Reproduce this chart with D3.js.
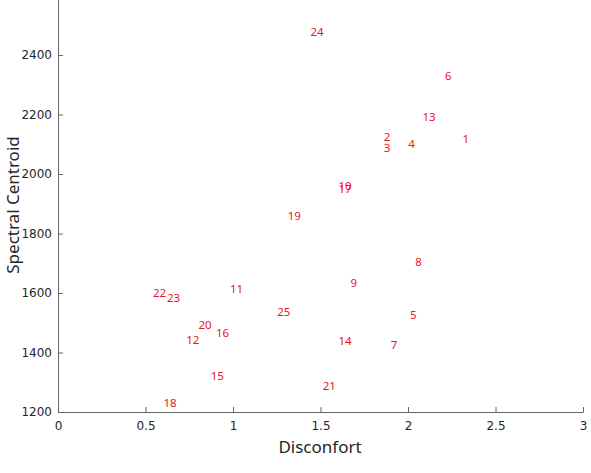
<!DOCTYPE html>
<html>
<head>
<meta charset="utf-8">
<script src="https://cdn.jsdelivr.net/npm/d3@7"></script>
<style>
  body { margin: 0; background: #fff; }
  svg { display: block; font-family: "Noto Sans", sans-serif; }
  .axis path, .axis line { stroke: #666; }
  .axis text { fill: #262626; font-size: 12px; font-family: "DejaVu Sans", sans-serif; }
  .axisText { fill: #262626; font-size: 17px; }
</style>
</head>
<body>
<div id="scatter"></div>
<script>
    var svgWidth = 591;
    var svgHeight = 473;

    var margin = { top: -4.5, right: 8, bottom: 61, left: 58 };

    var width = svgWidth - margin.left - margin.right;
    var height = svgHeight - margin.top - margin.bottom;

    // sample ids, discomfort and spectral centroid
    var ids = [1, 2, 3, 4, 5, 6, 7, 8, 9, 10, 11, 12, 13, 14, 15, 16, 17, 18, 19, 20, 21, 22, 23, 24, 25];
    var disconfort = [2.33, 1.88, 1.88, 2.02, 2.03, 2.23, 1.92, 2.06, 1.69, 1.64, 1.02, 0.77, 2.12, 1.64, 0.91, 0.94, 1.64, 0.64, 1.35, 0.84, 1.55, 0.58, 0.66, 1.48, 1.29];
    var centroid = [2118, 2124, 2087, 2101, 1526, 2329, 1425, 1704, 1634, 1960, 1613, 1442, 2192, 1439, 1321, 1466, 1950, 1230, 1859, 1492, 1287, 1600, 1583, 2477, 1536];

    var xTicks = [0, 0.5, 1, 1.5, 2, 2.5, 3];
    var yTicks = [1200, 1400, 1600, 1800, 2000, 2200, 2400, 2600];

    var points = ids.map(function(id, i) {
      return { id: id, x: disconfort[i], y: centroid[i] };
    });

    var svg = d3.select("#scatter")
      .append("svg")
      .attr("width", svgWidth)
      .attr("height", svgHeight);

    var chartGroup = svg.append("g")
      .attr("transform", `translate(${margin.left}, ${margin.top})`);

    var xLinearScale = d3.scaleLinear()
      .domain([0, 3])
      .range([0, width]);

    var yLinearScale = d3.scaleLinear()
      .domain([1200, 2600])
      .range([height, 0]);

    // ticks point inward, like the original
    var bottomAxis = d3.axisBottom(xLinearScale)
      .tickValues(xTicks)
      .tickFormat(d3.format("~g"))
      .tickSizeInner(-5)
      .tickSizeOuter(0)
      .tickPadding(9);
    var leftAxis = d3.axisLeft(yLinearScale)
      .tickValues(yTicks)
      .tickFormat(d3.format("d"))
      .tickSizeInner(-5)
      .tickSizeOuter(0)
      .tickPadding(6);

    chartGroup.append("g")
      .attr("class", "axis")
      .attr("transform", `translate(0, ${height})`)
      .call(bottomAxis);

    chartGroup.append("g")
      .attr("class", "axis")
      .call(leftAxis);

    // Point labels
    chartGroup.selectAll(".pt")
      .data(points)
      .enter()
      .append("text")
      .attr("class", "pt")
      .attr("x", d => xLinearScale(d.x))
      .attr("y", d => yLinearScale(d.y))
      .attr("dy", "0.35em")
      .attr("text-anchor", "middle")
      .attr("fill", "#e8151b")
      .attr("font-size", "11.5px")
      .text(d => d.id);

    // Axis labels
    chartGroup.append("text")
      .attr("class", "axisText")
      .attr("transform", "rotate(-90)")
      .attr("x", -(205 - margin.top))
      .attr("y", -margin.left + 13)
      .attr("dy", "0.35em")
      .attr("text-anchor", "middle")
      .text("Spectral Centroid");

    chartGroup.append("text")
      .attr("class", "axisText")
      .attr("x", 320 - margin.left)
      .attr("y", 447 - margin.top)
      .attr("dy", "0.35em")
      .attr("text-anchor", "middle")
      .text("Disconfort");
</script>
</body>
</html>
